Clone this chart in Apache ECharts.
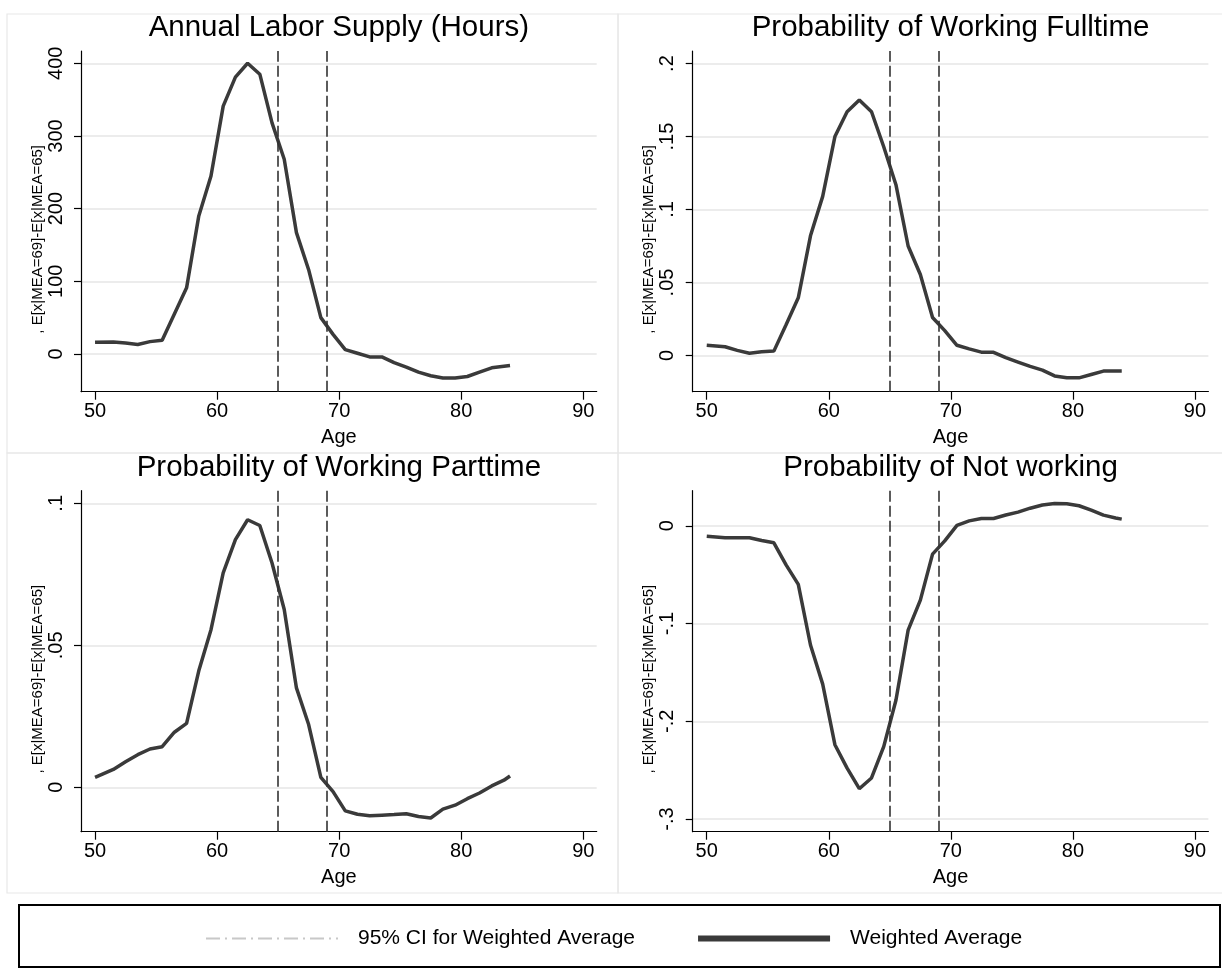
<!DOCTYPE html>
<html>
<head>
<meta charset="utf-8">
<script src="https://cdn.jsdelivr.net/npm/echarts@6/dist/echarts.min.js"></script>
<style>
  html, body { margin: 0; padding: 0; background: #fff; }
  #chart { width: 1222px; height: 969px; }
</style>
</head>
<body>
<div id="chart"></div>
<script>
// ages where the weighted average is evaluated
const ages = [50, 51.5, 52.5, 53.5, 54.5, 55.5, 56.5, 57.5, 58.5, 59.5, 60.5, 61.5, 62.5, 63.5, 64.5,
  65.5, 66.5, 67.5, 68.5, 69.5, 70.5, 71.5, 72.5, 73.5, 74.5, 75.5, 76.5, 77.5, 78.5, 79.5, 80.5,
  81.5, 82.5, 83.5, 84];

// E[x|MEA=69]-E[x|MEA=65], one list per panel
const laborHours = [16, 16.5, 15, 13, 17, 19, 55, 91, 190, 245, 341, 381, 400, 385, 318,
  268, 167, 116, 50, 27, 6, 1, -4, -4, -12, -18, -25, -30, -33, -33, -31,
  -25, -19, -17, -16];
const probFulltime = [0.007, 0.006, 0.0035, 0.0015, 0.0025, 0.003, 0.021, 0.0395, 0.082, 0.109, 0.150, 0.167, 0.175, 0.167, 0.143,
  0.117, 0.075, 0.0555, 0.026, 0.017, 0.007, 0.0045, 0.0023, 0.0022, -0.0015, -0.0045, -0.0075, -0.010, -0.014, -0.0153, -0.0153,
  -0.013, -0.0107, -0.0107, -0.0107];
const probParttime = [0.0035, 0.0063, 0.009, 0.0115, 0.0135, 0.0143, 0.0194, 0.0225, 0.041, 0.0555, 0.0755, 0.0872, 0.0942, 0.0922, 0.079,
  0.0626, 0.035, 0.0221, 0.0035, -0.0015, -0.0083, -0.0095, -0.0100, -0.0098, -0.0096, -0.0093, -0.0103, -0.0108, -0.0077, -0.0063, -0.004,
  -0.002, 0.0005, 0.0025, 0.004];
const probNotWorking = [-0.0106, -0.0122, -0.0123, -0.0123, -0.015, -0.0174, -0.040, -0.060, -0.122, -0.162, -0.224, -0.248, -0.269, -0.258, -0.226,
  -0.1785, -0.1068, -0.0761, -0.029, -0.0155, 0.0005, 0.005, 0.0075, 0.0075, 0.011, 0.014, 0.018, 0.0213, 0.0228, 0.0225, 0.0205,
  0.016, 0.0109, 0.008, 0.0068];

// normal retirement ages compared
const meaAges = [65, 69];

// tick labels
const ageTicks = [50, 60, 70, 80, 90];
const hoursTicks = [0, 100, 200, 300, 400];
const fulltimeTicks = [0, 0.05, 0.1, 0.15, 0.2];
const parttimeTicks = [0, 0.05, 0.1];
const notWorkingTicks = [-0.3, -0.2, -0.1, 0];

const panelTitles = ['Annual Labor Supply (Hours)', 'Probability of Working Fulltime',
  'Probability of Working Parttime', 'Probability of Not working'];
const yTitle = ', E[x|MEA=69]-E[x|MEA=65]';
const xTitle = 'Age';
const avgName = 'Weighted Average';
const ciName = '95% CI for Weighted Average';

const FONT = "'Liberation Sans', Arial, sans-serif";
const LINE = '#3a3a3a';

const panels = [
  { values: laborHours, ticks: hoursTicks, min: -51.9, max: 416.9, left: 81, top: 51, height: 340.7 },
  { values: probFulltime, ticks: fulltimeTicks, min: -0.0248, max: 0.2086, left: 692.7, top: 51, height: 340.7 },
  { values: probParttime, ticks: parttimeTicks, min: -0.01563, max: 0.10444, left: 81, top: 490.7, height: 341 },
  { values: probNotWorking, ticks: notWorkingTicks, min: -0.313, max: 0.0359, left: 692.7, top: 490.7, height: 341 }
];
const plotWidth = 515.7;

// Stata style: .05, -.1, 0
const fmt = v => {
  if (Math.abs(v) < 1e-12) return '0';
  return String(+v.toFixed(4)).replace(/^(-?)0\./, '$1.');
};

const chart = echarts.init(document.getElementById('chart'));

const grid = [], xAxis = [], yAxis = [], series = [], title = [];

panels.forEach((p, i) => {
  grid.push({ left: p.left, top: p.top, width: plotWidth, height: p.height });
  title.push({
    text: panelTitles[i],
    left: p.left + plotWidth / 2,
    top: p.top - 38,
    textAlign: 'center',
    padding: 0,
    textStyle: { fontFamily: FONT, fontSize: 29.5, fontWeight: 'normal', color: '#000' }
  });
  xAxis.push({
    type: 'value', gridIndex: i, min: 48.85, max: 91.1,
    name: xTitle, nameLocation: 'middle', nameGap: 36,
    nameTextStyle: { fontFamily: FONT, fontSize: 20, color: '#000' },
    axisLine: { show: true, onZero: false, lineStyle: { color: '#000', width: 1.2 } },
    axisTick: { show: true, customValues: ageTicks, length: 8, lineStyle: { color: '#000', width: 1.2 } },
    axisLabel: { customValues: ageTicks, fontFamily: FONT, fontSize: 20, color: '#000', margin: 10 },
    splitLine: { show: false }
  });
  yAxis.push({
    type: 'value', gridIndex: i, min: p.min, max: p.max,
    name: yTitle, nameLocation: 'middle', nameGap: 36, nameMoveOverlap: false,
    nameTextStyle: { fontFamily: FONT, fontSize: 15, color: '#000', padding: [0, 36, 0, 0] },
    axisLine: { show: true, onZero: false, lineStyle: { color: '#000', width: 1.2 } },
    axisTick: { show: true, customValues: p.ticks, length: 7, lineStyle: { color: '#000', width: 1.2 } },
    axisLabel: { customValues: p.ticks, rotate: 90, fontFamily: FONT, fontSize: 20, color: '#000', margin: 15, formatter: fmt },
    splitLine: { show: true, lineStyle: { color: '#e6e6e6', width: 1.5 } }
  });
  series.push({
    name: avgName, type: 'line', xAxisIndex: i, yAxisIndex: i,
    data: ages.map((a, j) => [a, p.values[j]]),
    symbol: 'none', silent: true,
    lineStyle: { color: LINE, width: 3.5 },
    itemStyle: { color: LINE },
    markLine: {
      silent: true, symbol: ['none', 'none'], label: { show: false },
      lineStyle: { color: '#333', width: 1.6, type: [11, 4] },
      data: meaAges.map(a => ({ xAxis: a }))
    }
  });
});

// CI only appears in the legend
series.push({
  name: ciName, type: 'line', xAxisIndex: 0, yAxisIndex: 0, data: [],
  symbol: 'none',
  lineStyle: { color: '#c8c8c8', width: 1.5, type: [14, 5, 2, 5] },
  itemStyle: { color: '#c8c8c8' }
});

const panelBox = (x, y, w, h) => ({
  type: 'rect', z: -1, silent: true,
  shape: { x: x, y: y, width: w, height: h },
  style: { fill: 'none', stroke: '#e8e8e8', lineWidth: 1.2 }
});

chart.setOption({
  animation: false,
  backgroundColor: '#fff',
  title: title,
  grid: grid,
  xAxis: xAxis,
  yAxis: yAxis,
  series: series,
  legend: {
    left: 205, top: 928, padding: 0,
    itemWidth: 132, itemHeight: 14, itemGap: 63,
    selectedMode: false,
    textStyle: { fontFamily: FONT, fontSize: 21, color: '#000', padding: [0, 0, 0, 15] },
    data: [
      { name: ciName, itemStyle: { opacity: 0 } },
      { name: avgName, icon: 'path://M0,0h132v6h-132z', itemStyle: { color: LINE } }
    ]
  },
  graphic: [
    panelBox(7, 14, 611, 439),
    panelBox(618, 14, 611, 439),
    panelBox(7, 453, 611, 440),
    panelBox(618, 453, 611, 440),
    {
      type: 'rect', silent: true,
      shape: { x: 19, y: 905, width: 1201, height: 62 },
      style: { fill: 'none', stroke: '#000', lineWidth: 2 }
    }
  ]
});
</script>
</body>
</html>
